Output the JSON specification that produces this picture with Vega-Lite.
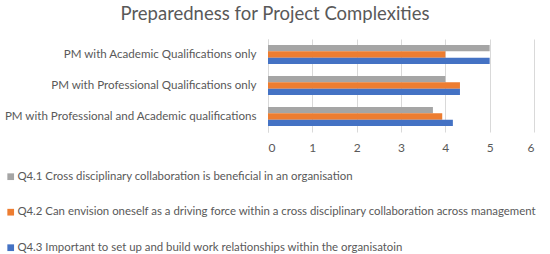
{
  "$schema": "https://vega.github.io/schema/vega-lite/v6.json",
  "autosize": {"type": "none"},
  "padding": {"left": 268, "top": 39, "right": 16, "bottom": 122},
  "width": 266,
  "height": 93,
  "background": "white",
  "title": {
    "text": "Preparedness for Project Complexities",
    "font": "Lato",
    "fontSize": 18.5,
    "fontWeight": "normal",
    "color": "#595959",
    "anchor": "middle",
    "dx": -126,
    "offset": 16
  },
  "data": {
    "values": [
      {"group": "PM with Academic Qualifications only", "q": "Q4.1 Cross disciplinary collaboration is beneficial in an organisation", "v": 5},
      {"group": "PM with Academic Qualifications only", "q": "Q4.2 Can envision oneself as a driving force within a cross disciplinary collaboration across management", "v": 4},
      {"group": "PM with Academic Qualifications only", "q": "Q4.3 Important to set up and build work relationships within the organisatoin", "v": 5},
      {"group": "PM with Professional Qualifications only", "q": "Q4.1 Cross disciplinary collaboration is beneficial in an organisation", "v": 4},
      {"group": "PM with Professional Qualifications only", "q": "Q4.2 Can envision oneself as a driving force within a cross disciplinary collaboration across management", "v": 4.33},
      {"group": "PM with Professional Qualifications only", "q": "Q4.3 Important to set up and build work relationships within the organisatoin", "v": 4.33},
      {"group": "PM with Professional and Academic qualifications", "q": "Q4.1 Cross disciplinary collaboration is beneficial in an organisation", "v": 3.72},
      {"group": "PM with Professional and Academic qualifications", "q": "Q4.2 Can envision oneself as a driving force within a cross disciplinary collaboration across management", "v": 3.93},
      {"group": "PM with Professional and Academic qualifications", "q": "Q4.3 Important to set up and build work relationships within the organisatoin", "v": 4.17}
    ]
  },
  "mark": {"type": "bar"},
  "encoding": {
    "y": {
      "field": "group",
      "type": "nominal",
      "sort": ["PM with Academic Qualifications only", "PM with Professional Qualifications only", "PM with Professional and Academic qualifications"],
      "scale": {"paddingInner": 0.39, "paddingOuter": 0.195},
      "axis": {
        "title": null,
        "domain": true,
        "domainColor": "#d9d9d9",
        "ticks": false,
        "labelFont": "Lato",
        "labelFontSize": 11.6,
        "labelColor": "#595959",
        "labelPadding": 12,
        "labelLimit": 300
      }
    },
    "yOffset": {
      "field": "q",
      "type": "nominal",
      "sort": [
        "Q4.1 Cross disciplinary collaboration is beneficial in an organisation",
        "Q4.2 Can envision oneself as a driving force within a cross disciplinary collaboration across management",
        "Q4.3 Important to set up and build work relationships within the organisatoin"
      ],
      "scale": {"paddingInner": 0, "paddingOuter": 0}
    },
    "x": {
      "field": "v",
      "type": "quantitative",
      "scale": {"domain": [0, 6], "nice": false},
      "axis": {
        "title": null,
        "values": [0, 1, 2, 3, 4, 5, 6],
        "domain": false,
        "ticks": false,
        "grid": true,
        "gridColor": "#d9d9d9",
        "labelFont": "Lato",
        "labelFontSize": 12,
        "labelColor": "#595959",
        "labelPadding": 10
      }
    },
    "color": {
      "field": "q",
      "type": "nominal",
      "sort": [
        "Q4.1 Cross disciplinary collaboration is beneficial in an organisation",
        "Q4.2 Can envision oneself as a driving force within a cross disciplinary collaboration across management",
        "Q4.3 Important to set up and build work relationships within the organisatoin"
      ],
      "scale": {"range": ["#a5a5a5", "#ed7d31", "#4472c4"]},
      "legend": {
        "title": null,
        "orient": "none",
        "legendX": -263,
        "legendY": 132,
        "direction": "vertical",
        "symbolType": "square",
        "symbolSize": 45,
        "symbolStrokeWidth": 0,
        "labelFont": "Lato",
        "labelFontSize": 11.4,
        "labelColor": "#595959",
        "labelLimit": 600,
        "labelOffset": 1,
        "rowPadding": 22.5
      }
    }
  },
  "config": {"view": {"stroke": null}}
}
